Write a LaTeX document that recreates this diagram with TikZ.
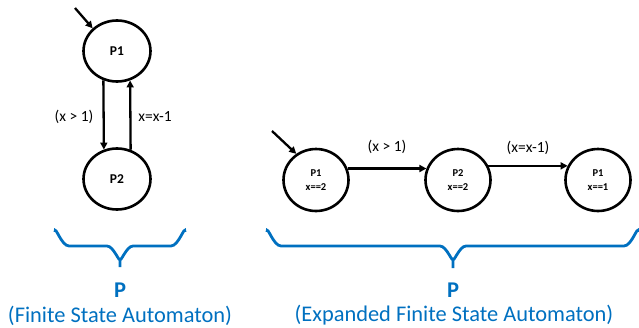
\documentclass[tikz,border=0pt]{standalone}
\usepackage{fontspec}
\setmainfont{Carlito}
\usetikzlibrary{arrows.meta,shapes.geometric}
\definecolor{pblue}{RGB}{0,112,192}
\begin{document}
\begin{tikzpicture}[x=1pt,y=-1pt,
  bigstate/.style={draw,ellipse,line width=2.6pt,minimum width=67pt,minimum height=61pt,inner sep=0pt,font=\bfseries\fontsize{13.5}{14}\selectfont},
  smallstate/.style={draw,ellipse,line width=2.6pt,minimum width=65pt,minimum height=62pt,inner sep=0pt,align=center,font=\bfseries\fontsize{10.5}{13.5}\selectfont},
  arr/.style={line width=2.3pt,-{Triangle[length=7pt,width=7pt]}},
  lbl/.style={font=\fontsize{15.5}{17}\selectfont},
  brace/.style={draw=pblue,line width=2.8pt},
  ptitle/.style={text=pblue,font=\bfseries\fontsize{22.5}{24}\selectfont},
  psub/.style={text=pblue,font=\fontsize{22.4}{24}\selectfont}]
\useasboundingbox (0,0) rectangle (639,327);
% left automaton
\node[bigstate] (p1) at (117,51) {P1};
\node[bigstate] (p2) at (117,179) {P2};
\coordinate (s1) at (75,8);
\draw[arr] (s1) -- (p1.137);
\draw[arr] (p1.245.6) -- (p2.114.4);
\draw[arr] (p2.65.6) -- (p1.294.4);
\node[lbl] (l1) at (74,117) {(x > 1)};
\node[lbl] (l2) at (155,117) {x=x-1};
% right automaton
\node[smallstate] (q1) at (316,180) {P1\\x==2};
\node[smallstate] (q2) at (458,180) {P2\\x==2};
\node[smallstate] (q3) at (598,180) {P1\\x==1};
\coordinate (s2) at (272,131);
\draw[arr] (s2) -- (q1.127);
\draw[arr] (q1.20) -- (q2.160);
\draw[arr] (q2.25) -- (q3.155);
\node[lbl] (l3) at (387,147) {(x > 1)};
\node[lbl] (l4) at (528,148) {(x=x-1)};
% braces
\draw[brace] (55,232) to[out=90,in=180] (69,246) -- (107,246) to[out=0,in=-90] (120,258) -- (120,267);
\draw[brace] (185,232) to[out=90,in=0] (171,246) -- (133,246) to[out=180,in=-90] (120,258);
\draw[brace] (267,232) to[out=90,in=180] (281,246) -- (440,246) to[out=0,in=-90] (453,258) -- (453,268);
\draw[brace] (638,232) to[out=90,in=0] (624,246) -- (466,246) to[out=180,in=-90] (453,258);
\node[ptitle] (t1) at (120,290) {P};
\node[psub] (u1) at (120,316) {(Finite State Automaton)};
\node[ptitle] (t2) at (453,290) {P};
\node[psub] (u2) at (454,315) {(Expanded Finite State Automaton)};
\end{tikzpicture}
\end{document}
